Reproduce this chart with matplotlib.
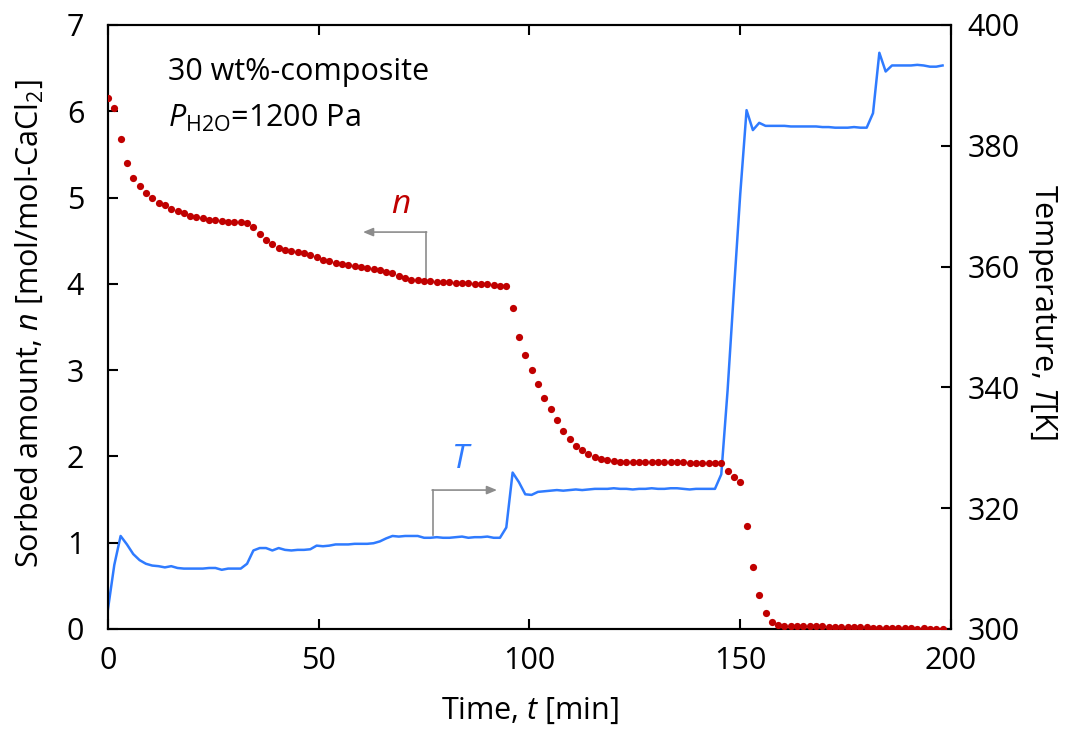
import numpy as np
import matplotlib
matplotlib.use("Agg")
import matplotlib.pyplot as plt

FONT = "Open Sans"
plt.rcParams["font.family"] = [FONT, "DejaVu Sans"]
plt.rcParams["mathtext.fontset"] = "custom"
plt.rcParams["mathtext.rm"] = FONT
plt.rcParams["mathtext.it"] = FONT + ":italic"
plt.rcParams["mathtext.bf"] = FONT + ":bold"

# sampling interval of the measurement [min]
dt = 1.5

# sorbed amount n [mol/mol-CaCl2]
n_sorbed = [
    6.15, 6.04, 5.68, 5.40, 5.23, 5.13, 5.05, 5.00, 4.94, 4.91,
    4.87, 4.85, 4.82, 4.79, 4.77, 4.76, 4.74, 4.74, 4.73, 4.72,
    4.72, 4.72, 4.71, 4.66, 4.58, 4.51, 4.46, 4.42, 4.39, 4.38,
    4.37, 4.36, 4.34, 4.31, 4.28, 4.26, 4.24, 4.23, 4.22, 4.21,
    4.19, 4.18, 4.17, 4.16, 4.14, 4.12, 4.09, 4.07, 4.05, 4.04,
    4.03, 4.03, 4.02, 4.02, 4.02, 4.01, 4.01, 4.01, 4.00, 4.00,
    4.00, 3.99, 3.98, 3.97, 3.72, 3.38, 3.17, 3.00, 2.84, 2.68,
    2.55, 2.42, 2.30, 2.20, 2.12, 2.07, 2.03, 1.99, 1.97, 1.96,
    1.95, 1.94, 1.94, 1.93, 1.93, 1.93, 1.93, 1.93, 1.93, 1.93,
    1.93, 1.93, 1.92, 1.92, 1.92, 1.92, 1.92, 1.92, 1.83, 1.76,
    1.70, 1.19, 0.72, 0.39, 0.18, 0.08, 0.05, 0.04, 0.035, 0.03,
    0.03, 0.03, 0.03, 0.03, 0.025, 0.025, 0.025, 0.02, 0.02, 0.02,
    0.02, 0.015, 0.01, 0.01, 0.01, 0.01, 0.01, 0.01, 0.005, 0.01,
    0.005, 0.005, 0.0,
]

# sample temperature T [K]
temperature = [
    303.3, 310.6, 315.4, 314.0, 312.4, 311.4, 310.8, 310.5, 310.4, 310.2,
    310.4, 310.1, 310.0, 310.0, 310.0, 310.0, 310.1, 310.1, 309.8, 310.0,
    310.0, 310.0, 310.8, 313.0, 313.4, 313.4, 313.0, 313.4, 313.1, 313.0,
    313.1, 313.1, 313.2, 313.8, 313.7, 313.8, 314.0, 314.0, 314.0, 314.1,
    314.1, 314.1, 314.2, 314.5, 315.0, 315.4, 315.3, 315.4, 315.4, 315.4,
    315.1, 315.1, 315.2, 315.1, 315.1, 315.2, 315.3, 315.1, 315.2, 315.2,
    315.3, 315.1, 315.1, 316.8, 325.9, 324.3, 322.3, 322.2, 322.7, 322.8,
    322.9, 323.0, 322.9, 323.0, 323.1, 323.0, 323.1, 323.2, 323.2, 323.2,
    323.3, 323.2, 323.2, 323.1, 323.2, 323.2, 323.3, 323.2, 323.2, 323.3,
    323.3, 323.2, 323.1, 323.2, 323.2, 323.2, 323.2, 325.6, 339.5, 356.0,
    372.0, 385.9, 382.6, 383.8, 383.3, 383.3, 383.3, 383.3, 383.2, 383.2,
    383.2, 383.2, 383.2, 383.1, 383.1, 383.0, 383.0, 383.0, 383.1, 383.0,
    383.0, 385.4, 395.4, 392.3, 393.3, 393.3, 393.3, 393.3, 393.4, 393.3,
    393.1, 393.1, 393.3,
]

time_min = np.arange(len(n_sorbed)) * dt

x_ticks = [0, 50, 100, 150, 200]
n_ticks = [0, 1, 2, 3, 4, 5, 6, 7]
t_ticks = [300, 320, 340, 360, 380, 400]

RED = "#c00000"
BLUE = "#2f7bff"
GRAY = "#8c8c8c"
FS = 22

fig = plt.figure(figsize=(10.84, 7.33), dpi=100)
ax = fig.add_axes([0.0996, 0.1419, 0.7777, 0.8240])
ax2 = ax.twinx()

# temperature curve (right axis) behind the sorption points
ax2.plot(time_min, temperature, color=BLUE, lw=1.8, zorder=2)
ax.plot(time_min, n_sorbed, "o", color=RED, ms=5.2, mec="none", zorder=3)
ax.set_zorder(ax2.get_zorder() + 1)
ax.patch.set_visible(False)

ax.set_xlim(0, 200)
ax.set_ylim(0, 7)
ax2.set_ylim(300, 400)
ax.set_xticks(x_ticks)
ax.set_yticks(n_ticks)
ax2.set_yticks(t_ticks)

for a in (ax, ax2):
    for s in a.spines.values():
        s.set_linewidth(1.5)
ax.tick_params(axis="both", direction="in", length=7, width=1.5,
               labelsize=FS, top=True, right=False)
ax.tick_params(axis="x", pad=12)
ax.tick_params(axis="y", pad=17)
ax2.tick_params(axis="y", direction="in", length=7, width=1.5,
                labelsize=FS, pad=12)

ax.set_xlabel(r"Time, $t$ [min]", fontsize=FS, va="center")
ax.xaxis.set_label_coords(0.5, -0.135)
ax.set_ylabel(r"Sorbed amount, $n$ [mol/mol-CaCl$_2$]", fontsize=FS, va="center")
ax.yaxis.set_label_coords(-0.093, 0.505)
ax2.set_ylabel(r"Temperature, $T$[K]", fontsize=FS, rotation=270, va="center")
ax2.yaxis.set_label_coords(1.108, 0.525)

ax.text(0.071, 0.922, "30 wt%-composite", transform=ax.transAxes,
        fontsize=FS, va="center", ha="left")
ax.text(0.071, 0.846, r"$P_{\mathrm{H2O}}$=1200 Pa", transform=ax.transAxes,
        fontsize=FS, va="center", ha="left")

# pointer from the n series to the left axis
ax.plot([75.5, 75.5], [4.07, 4.60], color=GRAY, lw=1.2)
ax.annotate("", xy=(60.5, 4.60), xytext=(75.6, 4.60),
            arrowprops=dict(arrowstyle="-|>,head_length=0.6,head_width=0.25",
                            color=GRAY, lw=1.2, shrinkA=0, shrinkB=0))
ax.text(69.5, 4.92, "$n$", color=RED, fontsize=24, ha="center", va="center")

# pointer from the T series to the right axis
ax.plot([77.0, 77.0], [1.09, 1.61], color=GRAY, lw=1.2)
ax.annotate("", xy=(92.3, 1.61), xytext=(76.9, 1.61),
            arrowprops=dict(arrowstyle="-|>,head_length=0.6,head_width=0.25",
                            color=GRAY, lw=1.2, shrinkA=0, shrinkB=0))
ax.text(84.0, 1.97, "$T$", color=BLUE, fontsize=24, ha="center", va="center")

fig.savefig("out.png", dpi=100)
